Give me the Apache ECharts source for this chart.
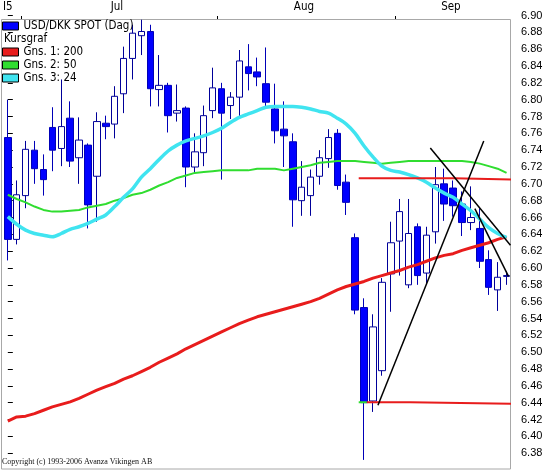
<!DOCTYPE html>
<html>
<head>
<meta charset="utf-8">
<script src="https://cdn.jsdelivr.net/npm/echarts@6/dist/echarts.min.js"></script>
<style>html,body{margin:0;padding:0;background:#fff;}#c{width:546px;height:470px;}</style>
</head>
<body>
<div id="c"></div>
<script>
// ---- data ----
const monthNames = ['Jun', 'Jul', 'Aug', 'Sep'];
const monthCounts = [2, 22, 20, 13];
const monthAxisLabels = ['I5', 'Jul', 'Aug', 'Sep'];
const yTickLabels = ['6.38','6.40','6.42','6.44','6.46','6.48','6.50','6.52','6.54','6.56','6.58','6.60','6.62','6.64','6.66','6.68','6.70','6.72','6.74','6.76','6.78','6.80','6.82','6.84','6.86','6.88','6.90'];

const openP  = [6.755,6.634,6.686,6.740,6.717,6.767,6.742,6.778,6.731,6.746,6.709,6.772,6.771,6.807,6.849,6.876,6.881,6.812,6.817,6.784,6.790,6.720,6.737,6.787,6.813,6.793,6.803,6.839,6.833,6.819,6.789,6.765,6.750,6.680,6.686,6.709,6.730,6.760,6.702,6.636,6.553,6.442,6.478,6.593,6.632,6.580,6.649,6.594,6.643,6.700,6.695,6.676,6.654,6.647,6.610,6.574,6.590];
const closeP = [6.634,6.687,6.741,6.718,6.705,6.740,6.768,6.727,6.752,6.675,6.774,6.768,6.804,6.849,6.879,6.881,6.813,6.817,6.781,6.787,6.720,6.738,6.781,6.814,6.784,6.803,6.846,6.831,6.827,6.797,6.763,6.757,6.681,6.696,6.708,6.731,6.755,6.698,6.678,6.550,6.440,6.530,6.583,6.630,6.667,6.641,6.591,6.639,6.699,6.676,6.674,6.654,6.660,6.608,6.577,6.589,6.591];
const lowP   = [6.609,6.628,6.671,6.700,6.686,6.715,6.721,6.720,6.700,6.647,6.655,6.753,6.754,6.784,6.824,6.853,6.792,6.792,6.761,6.774,6.696,6.713,6.721,6.778,6.705,6.777,6.780,6.811,6.816,6.789,6.748,6.720,6.649,6.662,6.662,6.699,6.719,6.693,6.663,6.545,6.372,6.429,6.472,6.548,6.591,6.576,6.580,6.582,6.629,6.656,6.661,6.638,6.645,6.600,6.568,6.549,6.580];
const highP  = [6.800,6.704,6.751,6.751,6.735,6.791,6.824,6.798,6.779,6.748,6.785,6.781,6.816,6.863,6.889,6.895,6.889,6.853,6.820,6.818,6.792,6.760,6.793,6.838,6.820,6.809,6.859,6.866,6.850,6.862,6.819,6.798,6.760,6.727,6.717,6.740,6.765,6.765,6.711,6.641,6.564,6.545,6.588,6.655,6.682,6.682,6.653,6.649,6.720,6.718,6.704,6.691,6.697,6.671,6.621,6.607,6.596];

const ma200 = [6.418,6.423,6.424,6.427,6.431,6.435,6.438,6.441,6.445,6.450,6.455,6.459,6.463,6.468,6.472,6.477,6.482,6.488,6.493,6.498,6.504,6.509,6.514,6.519,6.524,6.529,6.534,6.538,6.542,6.545,6.548,6.551,6.554,6.557,6.560,6.564,6.569,6.574,6.578,6.581,6.584,6.588,6.591,6.594,6.597,6.601,6.604,6.608,6.612,6.615,6.617,6.621,6.624,6.627,6.630,6.634,6.637];
const ma50  = [6.687,6.682,6.678,6.673,6.669,6.667,6.667,6.668,6.669,6.672,6.674,6.676,6.680,6.683,6.687,6.689,6.693,6.698,6.702,6.707,6.710,6.713,6.714,6.715,6.716,6.716,6.716,6.716,6.718,6.718,6.718,6.716,6.718,6.720,6.722,6.725,6.726,6.727,6.727,6.727,6.726,6.725,6.724,6.725,6.726,6.727,6.727,6.727,6.727,6.727,6.727,6.727,6.726,6.724,6.721,6.718,6.713];
const ma24  = [6.661,6.652,6.645,6.641,6.639,6.637,6.641,6.646,6.649,6.653,6.658,6.663,6.673,6.684,6.694,6.708,6.718,6.729,6.739,6.746,6.751,6.754,6.757,6.761,6.766,6.773,6.779,6.783,6.787,6.791,6.792,6.792,6.792,6.791,6.789,6.786,6.784,6.778,6.771,6.760,6.745,6.732,6.721,6.716,6.714,6.711,6.707,6.702,6.695,6.689,6.684,6.676,6.668,6.658,6.648,6.641,6.636];

// drawn annotation lines: [candle index, price]
const resistance = [[39.4,6.7065],[50.1,6.7065],[50.1,6.7051],[56.5,6.7051]];
const support    = [[40.3,6.4405],[45.2,6.4405],[45.2,6.4387],[56.5,6.4387]];
const supportMark = [[39.4,6.4405],[40.3,6.4405]];
const trendRise  = [[41.56,6.437],[53.44,6.751]];
const trendFall1 = [[47.44,6.7425],[56.44,6.627]];
const trendFall2 = [[52.44,6.6705],[56.22,6.590]];

// ---- build ----
const categories = [];
monthNames.forEach((m, i) => { for (let k = 1; k <= monthCounts[i]; k++) categories.push(m + ' ' + k); });
const candles = openP.map((o, i) => [o, closeP[i], lowP[i], highP[i]]);
const n = categories.length;

const monthStarts = [];
let acc = 0;
monthCounts.forEach(c => { monthStarts.push(acc); acc += c; });
const tickVals = monthStarts.slice(1).map(s => s - 0.5);
const labelVals = monthStarts.map((s, i) => i === 0 ? 0 : s + monthCounts[i] / 2 - 0.75);
const labelMap = {};
labelVals.forEach((v, i) => { labelMap[v.toFixed(3)] = monthAxisLabels[i]; });

const LFONT = "'DejaVu Sans Condensed','Liberation Sans Narrow','Liberation Sans',sans-serif";
const AFONT = "'Liberation Sans',Arial,sans-serif";
const chart = echarts.init(document.getElementById('c'), null, { renderer: 'canvas' });
chart.setOption({
  animation: false,
  backgroundColor: '#ffffff',
  grid: { left: -2, right: 35, top: 15.5, bottom: -3.2, containLabel: false },
  xAxis: [
    { type: 'category', data: categories, boundaryGap: true, show: false },
    {
      type: 'value', min: -0.5, max: n - 0.5, position: 'top', offset: -3.5,
      axisLine: { show: false },
      splitLine: { show: false },
      axisTick: { show: true, customValues: tickVals, length: 3, lineStyle: { color: '#000', width: 1 } },
      axisLabel: {
        show: true, customValues: labelVals, margin: 6,
        color: '#000', fontSize: 11.5, fontFamily: LFONT,
        formatter: v => labelMap[Number(v).toFixed(3)] || ''
      }
    }
  ],
  yAxis: {
    type: 'value', position: 'right', min: 6.36, max: 6.90, interval: 0.02,
    axisLine: { show: false }, splitLine: { show: false },
    axisTick: { show: true, length: 5, lineStyle: { color: '#000' } },
    axisLabel: {
      margin: 10, color: '#000', fontSize: 11, fontFamily: AFONT,
      formatter: v => { const s = Number(v).toFixed(2); return yTickLabels.indexOf(s) >= 0 ? s : ''; }
    }
  },
  legend: [
    {
      data: [{ name: 'USD/DKK SPOT (Dag)', itemStyle: { color: '#0000ff' } }],
      left: 2, top: 20, orient: 'vertical', icon: 'rect', itemWidth: 16, itemHeight: 8, padding: 0,
      selectedMode: false, itemStyle: { borderColor: '#000', borderWidth: 1 },
      textStyle: { color: '#000', fontSize: 11.5, fontFamily: LFONT, lineHeight: 12 }
    },
    {
      data: ['Gns. 1: 200', 'Gns. 2: 50', 'Gns. 3: 24'],
      left: 2, top: 46, orient: 'vertical', icon: 'rect', itemWidth: 16, itemHeight: 8, padding: 0, itemGap: 1,
      selectedMode: false, itemStyle: { borderColor: '#000', borderWidth: 1 },
      textStyle: { color: '#000', fontSize: 11.5, fontFamily: LFONT, lineHeight: 12 }
    }
  ],
  graphic: [
    { type: 'rect', z: 0, silent: true, shape: { x: 1.5, y: 19.5, width: 509, height: 449.5 }, style: { fill: null, stroke: '#a8a8a8', lineWidth: 1 } },
    { type: 'text', z: 10, left: 4, top: 33, style: { text: 'Kursgraf', fill: '#000', font: "11.5px " + LFONT } },
    { type: 'text', z: 10, left: 2, top: 458, style: { text: 'Copyright (c) 1993-2006 Avanza Vikingen AB', fill: '#111', font: "8px 'Liberation Serif',serif" } }
  ],
  series: [
    {
      name: 'USD/DKK SPOT (Dag)', type: 'candlestick', data: candles, barWidth: 7,
      itemStyle: { color: '#ffffff', color0: '#0000ff', borderColor: '#000099', borderColor0: '#0000b8', borderWidth: 1 }
    },
    { name: 'Gns. 1: 200', type: 'line', data: ma200, showSymbol: false, color: '#e81c1c', lineStyle: { width: 3, color: '#e81c1c' } },
    { name: 'Gns. 2: 50', type: 'line', data: ma50, showSymbol: false, color: '#30dd30', lineStyle: { width: 2, color: '#30dd30' } },
    { name: 'Gns. 3: 24', type: 'line', data: ma24, showSymbol: false, smooth: 0.3, color: '#40e4f0', lineStyle: { width: 3.5, color: '#40e4f0' } },
    { type: 'line', xAxisIndex: 1, data: resistance, showSymbol: false, lineStyle: { width: 2, color: '#e81c1c' } },
    { type: 'line', xAxisIndex: 1, data: support, showSymbol: false, lineStyle: { width: 2, color: '#e81c1c' } },
    { type: 'line', xAxisIndex: 1, data: supportMark, showSymbol: false, lineStyle: { width: 2, color: '#30dd30' } },
    { type: 'line', xAxisIndex: 1, data: trendRise, showSymbol: false, lineStyle: { width: 1.5, color: '#000' } },
    { type: 'line', xAxisIndex: 1, data: trendFall1, showSymbol: false, lineStyle: { width: 1.5, color: '#000' } },
    { type: 'line', xAxisIndex: 1, data: trendFall2, showSymbol: false, lineStyle: { width: 1.5, color: '#000' } }
  ]
});
</script>
</body>
</html>
